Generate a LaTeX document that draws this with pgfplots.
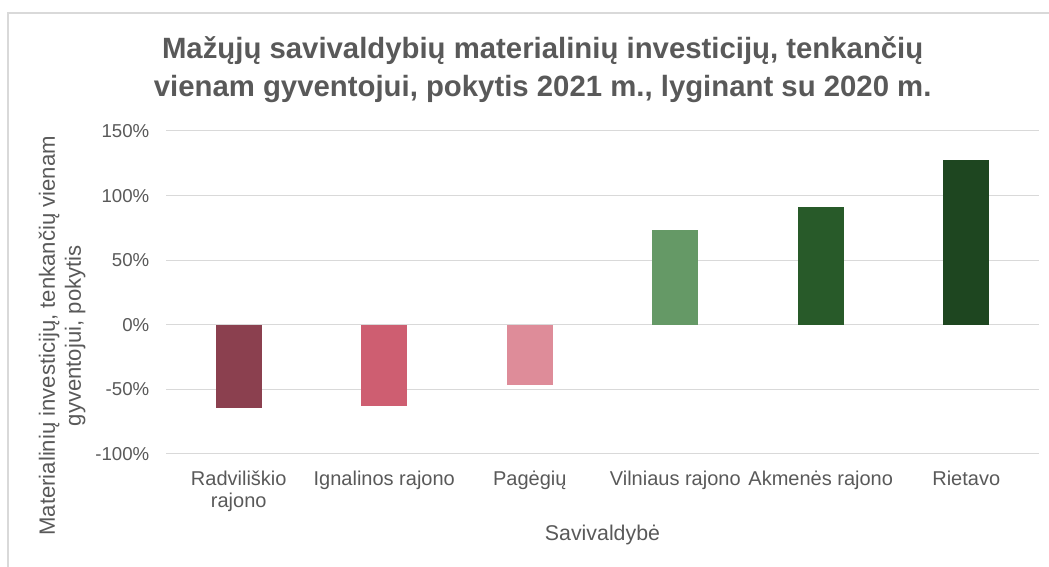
\documentclass[border=0pt]{standalone}
\usepackage{fontspec}
\setmainfont{Liberation Sans}
\usepackage{pgfplots}
\pgfplotsset{compat=1.18}
\definecolor{txt}{HTML}{595959}
\definecolor{gridc}{HTML}{D9D9D9}
\definecolor{c1}{HTML}{8B404F}
\definecolor{c2}{HTML}{CE5E71}
\definecolor{c3}{HTML}{DE8C99}
\definecolor{c4}{HTML}{659966}
\definecolor{c5}{HTML}{285A29}
\definecolor{c6}{HTML}{1E4620}
\begin{document}
\begin{tikzpicture}
\useasboundingbox (0,0) rectangle (786.75pt,425.25pt);
\draw[gridc, line width=1.5pt] (6pt,0) -- (6pt,415.5pt) -- (786.75pt,415.5pt);
\node[text=txt, font=\fontsize{22}{28}\selectfont\bfseries, align=center] at (407pt,373pt)
  {Mažųjų savivaldybių materialinių investicijų, tenkančių\\vienam gyventojui, pokytis 2021 m., lyginant su 2020 m.};
\begin{axis}[
  at={(124.5pt,84.75pt)}, anchor=south west,
  scale only axis, width=654.75pt, height=242.25pt,
  ybar, bar width=34.5pt, bar shift=0pt,
  xmin=-0.5, xmax=5.5, ymin=-100, ymax=150,
  xtick={0,1,2,3,4,5},
  xticklabels={Radviliškio\\rajono, Ignalinos rajono, Pagėgių, Vilniaus rajono, Akmenės rajono, Rietavo},
  ytick={-100,-50,0,50,100,150},
  yticklabels={-100\%,-50\%,0\%,50\%,100\%,150\%},
  xmajorgrids=false, ymajorgrids=true,
  grid style={draw=gridc, line width=0.75pt},
  axis line style={draw=none},
  major tick length=0pt, tick style={draw=none},
  tick label style={text=txt},
  yticklabel style={font=\fontsize{14}{16}\selectfont, anchor=east, xshift=-9pt},
  xticklabel style={font=\fontsize{15}{17}\selectfont, align=center, anchor=north, yshift=-9pt},
  xlabel={Savivaldybė},
  ylabel={Materialinių investicijų, tenkančių vienam\\gyventojui, pokytis},
  label style={text=txt, align=center},
  xlabel style={font=\fontsize{16}{19}\selectfont, at={(axis description cs:0.5,-0.251)}, anchor=center},
  ylabel style={font=\fontsize{16.6}{19.5}\selectfont, at={(axis description cs:-0.119,0.366)}, anchor=center, rotate=0},
]
\addplot[fill=c1, draw=none] coordinates {(0,-64.7)};
\addplot[fill=c2, draw=none] coordinates {(1,-63.1)};
\addplot[fill=c3, draw=none] coordinates {(2,-46.6)};
\addplot[fill=c4, draw=none] coordinates {(3,73.2)};
\addplot[fill=c5, draw=none] coordinates {(4,91.0)};
\addplot[fill=c6, draw=none] coordinates {(5,127.9)};
\end{axis}
\end{tikzpicture}
\end{document}
